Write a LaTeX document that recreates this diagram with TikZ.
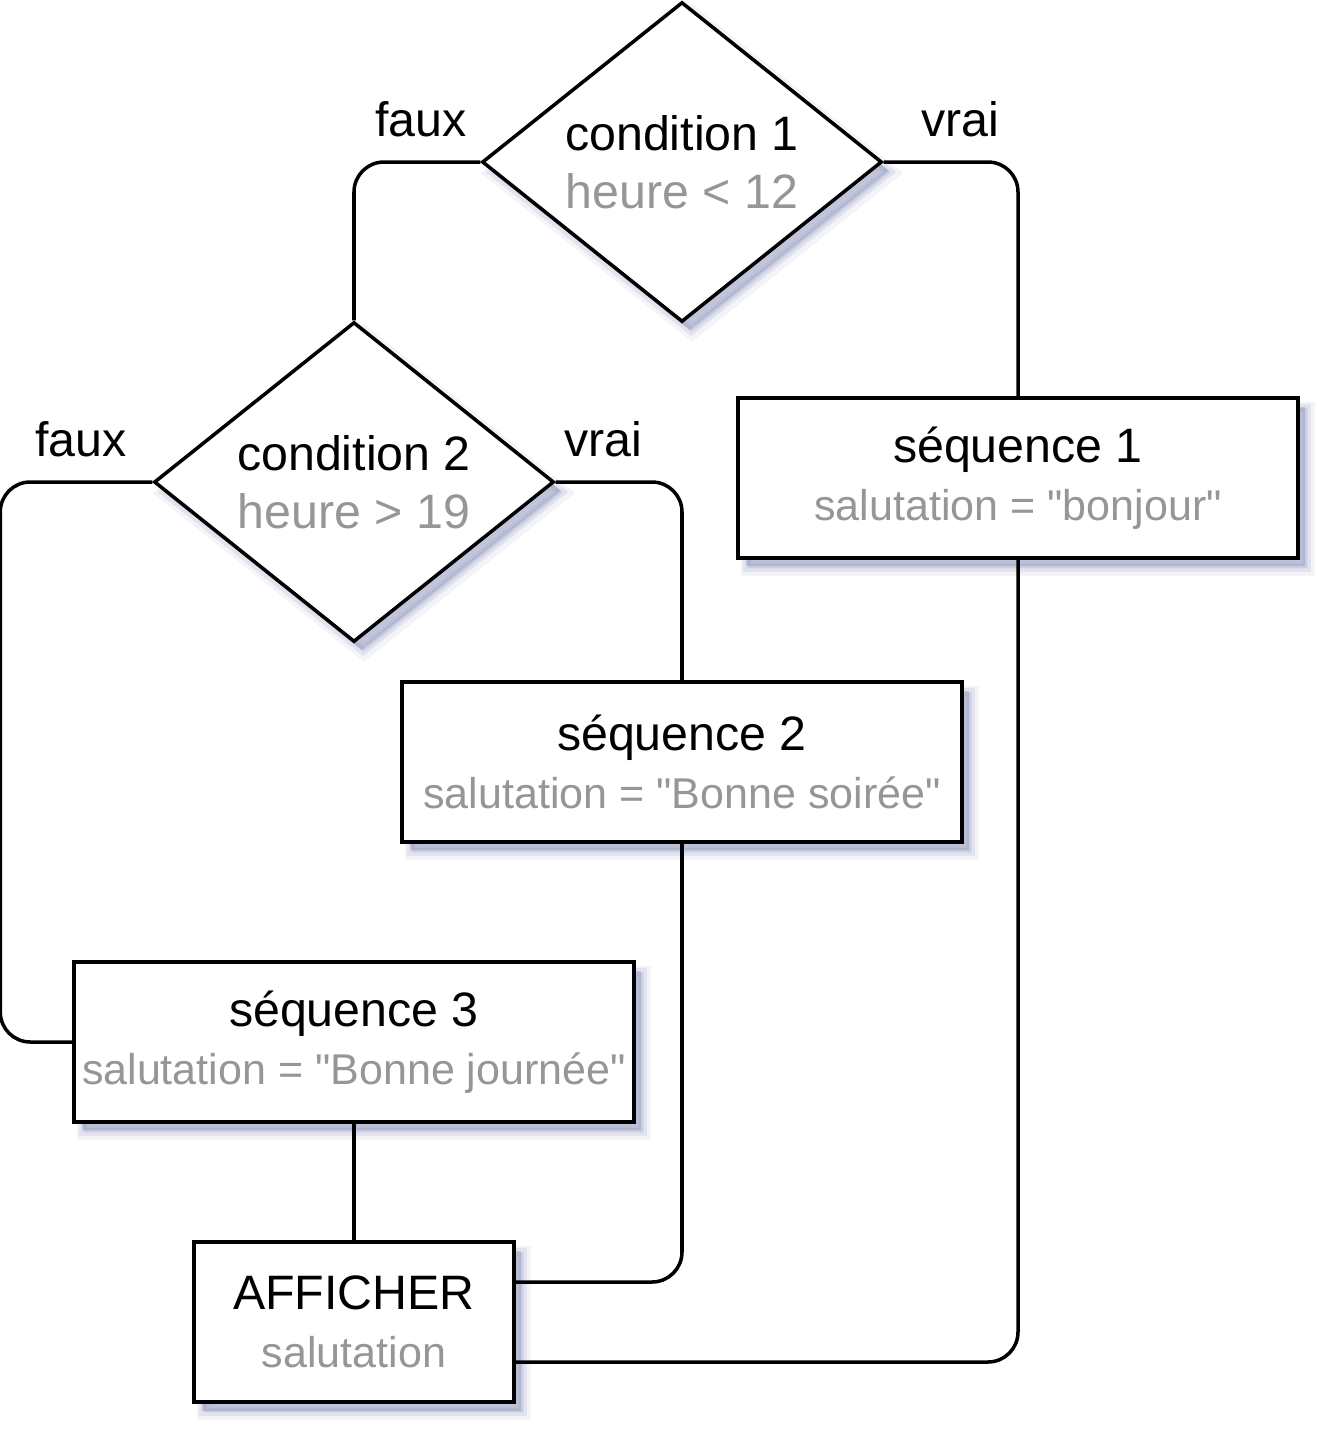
\documentclass[tikz,border=0pt]{standalone}
\usepackage{fontspec}
\setmainfont{Liberation Sans}[Ligatures=TeXOff]
\usepackage{xcolor}
\usepackage{tikz}
\usetikzlibrary{shapes.geometric, shadows, calc}
\definecolor{softgray}{RGB}{150, 150, 150}
\definecolor{shadowblue}{RGB}{95, 105, 160}
\newcommand{\titlefont}{\fontsize{27.5}{33}\selectfont}
\newcommand{\valuefont}{\fontsize{24.5}{29.5}\selectfont}

\begin{document}
\begin{tikzpicture}[x=0.02cm, y=-0.02cm,
			softshadow/.style={
				drop shadow={shadow xshift=0.2cm, shadow yshift=-0.22cm, fill=shadowblue, draw=shadowblue, line width=0.3cm, opacity=0.07},
				drop shadow={shadow xshift=0.18cm, shadow yshift=-0.2cm, fill=shadowblue, draw=shadowblue, line width=0.15cm, opacity=0.12},
				drop shadow={shadow xshift=0.15cm, shadow yshift=-0.17cm, fill=shadowblue, opacity=0.25}},
			decision/.style={diamond, draw, line width=2pt, fill=white, minimum width=8cm, minimum height=6.4cm, shape aspect=1.25, inner sep=0pt, align=center, font=\titlefont, softshadow},
			seqbox/.style={rectangle, draw, line width=2pt, fill=white, minimum width=11.2cm, minimum height=3.2cm, align=center, font=\titlefont, softshadow},
			outbox/.style={seqbox, minimum width=6.4cm},
			branch/.style={font=\titlefont, anchor=base},
			link/.style={line width=2pt, rounded corners=0.6cm}
		]
		\useasboundingbox (0,0) rectangle (1344,1448);
		\node[decision] (cond1) at (682,162) {condition 1\\\textcolor{softgray}{heure < 12}};
		\node[decision] (cond2) at (354,482) {condition 2\\\textcolor{softgray}{heure > 19}};
		\node[seqbox] (seq1) at (1018,478) {séquence 1\\\textcolor{softgray}{\valuefont salutation = "bonjour"}};
		\node[seqbox] (seq2) at (682,762) {séquence 2\\\textcolor{softgray}{\valuefont salutation = "Bonne soirée"}};
		\node[seqbox] (seq3) at (354,1042) {séquence 3\\\textcolor{softgray}{\valuefont salutation = "Bonne journée"}};
		\node[outbox] (show) at (354,1322) {AFFICHER\\\textcolor{softgray}{\valuefont salutation}};
		
		\node[branch] (faux1) at (421,136) {faux};
		\node[branch] (vrai1) at (960,136) {vrai};
		\node[branch] (faux2) at (81,456) {faux};
		\node[branch] (vrai2) at (603,456) {vrai};
		
		\draw[link] (cond1.west) -| (cond2.north);
		\draw[link] (cond1.east) -| (seq1.north);
		\draw[link] (cond2.east) -| (seq2.north);
		\draw[link] (cond2.west) -- ++(-152,0) |- (seq3.west);
		\draw[link] (seq3.south) -- (show.north);
		\draw[link] (seq2.south) |- ([yshift=0.8cm]show.east);
		\draw[link] (seq1.south) |- ([yshift=-0.8cm]show.east);
		\end{tikzpicture}
\end{document}
